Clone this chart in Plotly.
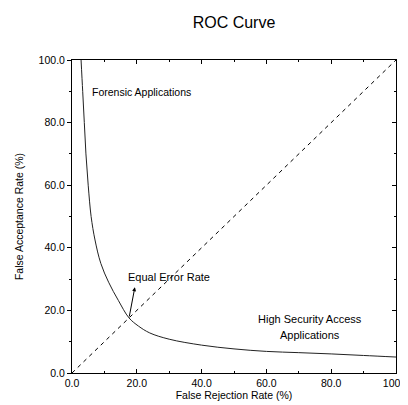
import plotly.graph_objects as go

# ROC curve values (percent)
frr = [2.8, 3.3, 3.8, 4.3, 5.0, 5.9, 7.1, 8.9, 11.3, 14.3, 17.6, 20.5, 24.0, 30.0, 40.0, 50.0, 60.0, 70.0, 80.0, 90.0, 100.0]
far = [100.0, 90.0, 80.0, 70.0, 60.0, 50.0, 42.5, 35.0, 29.0, 23.2, 17.6, 15.0, 12.8, 10.8, 8.9, 7.7, 6.9, 6.5, 6.1, 5.6, 5.1]

diag_x = [0.0, 100.0]
diag_y = [0.0, 100.0]

tick_vals = [0, 20, 40, 60, 80, 100]
tick_text = ["0.0", "20.0", "40.0", "60.0", "80.0", "100.0"]

eer_point = (17.6, 17.6)
eer_arrow_tip = (19.4, 27.4)

FONT = "Liberation Sans, Arial, Helvetica, sans-serif"

# page body has an 8px margin, so the figure is sized to fill the rest of the window
W, H = 400, 397

fig = go.Figure()
fig.add_trace(go.Scatter(x=diag_x, y=diag_y, mode="lines",
                         line=dict(color="black", width=1, dash="4px,4px"),
                         hoverinfo="skip", showlegend=False))
fig.add_trace(go.Scatter(x=frr, y=far, mode="lines", line_shape="spline",
                         line=dict(color="#222222", width=1),
                         showlegend=False))
# invisible trace to anchor the right-hand tick axis
fig.add_trace(go.Scatter(x=[0], y=[0], yaxis="y2", mode="markers",
                         marker=dict(opacity=0), hoverinfo="skip", showlegend=False))

axis_common = dict(range=[0, 100], tickvals=tick_vals, ticktext=tick_text,
                   showgrid=False, zeroline=False, showline=True, automargin=False,
                   ticklabeloverflow="allow",
                   linecolor="black", linewidth=1, tickcolor="black",
                   tickfont=dict(family=FONT, size=10.5, color="black"))

fig.update_layout(
    width=W, height=H,
    margin=dict(l=64, r=12, t=52, b=32),
    plot_bgcolor="white", paper_bgcolor="white",
    title=dict(text="ROC Curve", x=0.5, xanchor="center", xref="paper",
               y=1 - 14 / H, yref="container", yanchor="middle", automargin=False,
               font=dict(family=FONT, size=16, color="black")),
    xaxis=dict(**axis_common, ticks="inside", ticklen=4, mirror="ticks",
               minor=dict(ticks="inside", ticklen=2, dtick=10, tickcolor="black"),
               title=dict(text="False Rejection Rate (%)", standoff=0,
                          font=dict(family=FONT, size=10.5, color="black"))),
    yaxis=dict(**axis_common, ticks="outside", ticklen=4, mirror=True,
               minor=dict(ticks="outside", ticklen=2, dtick=10, tickcolor="black"),
               title=dict(text="False Acceptance Rate (%)", standoff=12,
                          font=dict(family=FONT, size=10.5, color="black"))),
    yaxis2=dict(range=[0, 100], overlaying="y", side="right", tickvals=tick_vals,
                showticklabels=False, showgrid=False, zeroline=False, showline=False,
                automargin=False,
                ticks="inside", ticklen=4, tickcolor="black",
                minor=dict(ticks="inside", ticklen=2, dtick=10, tickcolor="black")),
)

ann_font = dict(family=FONT, size=10.5, color="black")
ann_font2 = dict(family=FONT, size=11, color="black")
fig.add_annotation(x=5.4, y=89.8, text="Forensic Applications", showarrow=False,
                   xanchor="left", yanchor="middle", font=ann_font)
fig.add_annotation(x=16.6, y=30.8, text="Equal Error Rate", showarrow=False,
                   xanchor="left", yanchor="middle", font=ann_font2)
fig.add_annotation(x=73.5, y=17.2, text="High Security Access", showarrow=False,
                   xanchor="center", yanchor="middle", font=ann_font2)
fig.add_annotation(x=73.5, y=12.1, text="Applications", showarrow=False,
                   xanchor="center", yanchor="middle", font=ann_font2)
fig.add_annotation(x=eer_arrow_tip[0], y=eer_arrow_tip[1], ax=eer_point[0], ay=eer_point[1],
                   xref="x", yref="y", axref="x", ayref="y", text="",
                   showarrow=True, arrowhead=2, arrowsize=0.8, arrowwidth=1,
                   arrowcolor="black", standoff=0, startstandoff=0)

fig.write_html("out.html")
